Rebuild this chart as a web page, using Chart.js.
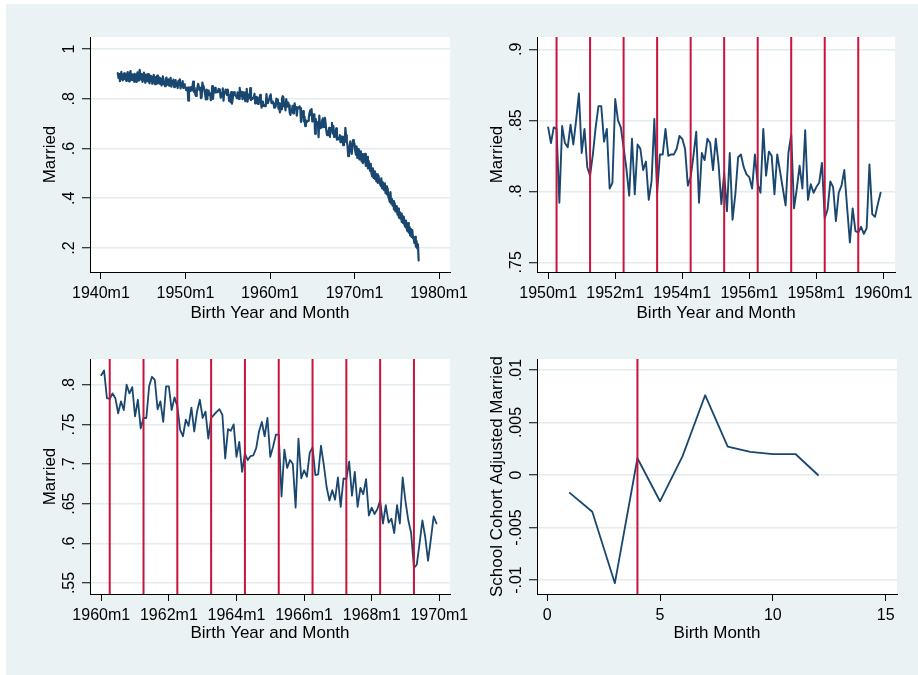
<!DOCTYPE html>
<html>
<head>
<meta charset="utf-8">
<script src="https://cdn.jsdelivr.net/npm/chart.js@4.4.1/dist/chart.umd.min.js"></script>
<style>
  body { margin: 0; background: #fff; }
  #bg { position: absolute; left: 6px; top: 4px; width: 912px; height: 671px; background: #eaf2f3; }
  canvas { position: absolute; }
</style>
</head>
<body>
<div id="bg"></div>
<canvas id="tl"></canvas>
<canvas id="tr"></canvas>
<canvas id="bl"></canvas>
<canvas id="br"></canvas>
<script>
// share married, by birth month (1942m1 .. 1977m8)
const married4249 = [
  .903, .884, .899, .871, .892, .908, .880, .874, .897, .902, .879, .893,
  .872, .899, .907, .882, .870, .901, .911, .878, .875, .898, .889, .869,
  .900, .881, .868, .896, .906, .884, .873, .916, .896, .877, .899, .868,
  .889, .905, .876, .864, .897, .884, .870, .899, .879, .862, .892, .871,
  .884, .860, .890, .896, .866, .858, .887, .873, .893, .861, .870, .885,
  .860, .882, .853, .871, .890, .858, .868, .850, .879, .885, .856, .866,
  .878, .852, .864, .884, .848, .871, .859, .877, .846, .868, .875, .851,
  .864, .843, .872, .855, .878, .841, .862, .850, .871, .843, .858, .845
];
const married5059 = [
  .845, .834, .845, .844, .792, .846, .834, .831, .847, .833, .850, .869,
  .827, .844, .817, .811, .826, .845, .860, .860, .835, .844, .802, .806,
  .865, .850, .845, .831, .816, .797, .837, .798, .833, .830, .815, .821,
  .794, .807, .851, .799, .826, .826, .844, .825, .826, .826, .830, .839,
  .837, .830, .804, .810, .825, .842, .792, .827, .822, .837, .834, .815,
  .837, .819, .791, .813, .786, .827, .780, .798, .824, .826, .817, .812,
  .810, .802, .826, .805, .799, .844, .811, .828, .825, .798, .826, .814,
  .802, .790, .827, .840, .788, .802, .818, .802, .843, .794, .805, .799,
  .803, .806, .820, .781, .787, .807, .803, .779, .799, .804, .815, .789,
  .764, .788, .772, .771, .775, .770, .774, .819, .784, .782, .791, .799
];
const married6069 = [
  .812, .818, .783, .782, .789, .783, .764, .779, .768, .800, .789, .797,
  .760, .781, .745, .758, .758, .798, .810, .806, .769, .779, .753, .798,
  .798, .768, .784, .773, .743, .735, .756, .748, .771, .741, .766, .781,
  .758, .766, .732, .758, .762, .766, .769, .762, .707, .744, .742, .750,
  .709, .728, .690, .713, .705, .710, .711, .720, .741, .753, .735, .758,
  .709, .722, .737, .737, .659, .718, .695, .705, .700, .645, .732, .682,
  .692, .684, .714, .721, .686, .687, .723, .699, .671, .654, .667, .655,
  .683, .646, .682, .681, .703, .660, .690, .646, .670, .662, .681, .635,
  .645, .637, .643, .654, .625, .648, .626, .631, .613, .648, .625, .683,
  .653, .629, .613, .569, .573, .600, .629, .608, .578, .605, .634, .625
];
const married7077 = [
  .618, .590, .575, .608, .562, .597, .570, .556, .588, .572, .548, .577,
  .541, .570, .548, .578, .530, .559, .566, .520, .550, .532, .510, .538,
  .500, .488, .520, .482, .508, .478, .499, .468, .496, .462, .490, .470,
  .470, .450, .480, .440, .465, .438, .432, .460, .420, .448, .415, .440,
  .405, .398, .385, .425, .378, .398, .370, .388, .355, .380, .347, .368,
  .350, .334, .358, .322, .345, .318, .338, .305, .330, .300, .325, .292,
  .285, .310, .278, .268, .300, .262, .285, .250, .276, .245, .272, .240,
  .238, .220, .245, .205, .228, .198, .215, .150
];
// school cohort adjusted married, by birth month 1..12
const birthMonths = [1, 2, 3, 4, 5, 6, 7, 8, 9, 10, 11, 12];
const adjMarried = [-.0017, -.0035, -.0103, .0016, -.0025, .0018, .0076, .0027, .0022, .0020, .0020, 0];

const schoolStartMonth = 4;
const redYears50s = [1950, 1951, 1952, 1953, 1954, 1955, 1956, 1957, 1958, 1959];
const redYears60s = [1960, 1961, 1962, 1963, 1964, 1965, 1966, 1967, 1968, 1969];

const xTicksTL = [-240, -120, 0, 120, 240];      // months since 1960m1
const xTicksTR = [-120, -96, -72, -48, -24, 0];
const xTicksBL = [0, 24, 48, 72, 96, 120];
const xTicksBR = [0, 5, 10, 15];
const yTicksTL = [.2, .4, .6, .8, 1];
const yTicksTR = [.75, .8, .85, .9];
const yTicksBL = [.55, .6, .65, .7, .75, .8];
const yTicksBR = [-.01, -.005, 0, .005, .01];

const NAVY = '#1a476f';
const RED = '#c8143c';
const GRID = '#e3ecef';
const FONT = '"Liberation Sans", Arial, sans-serif';

Chart.defaults.font.family = FONT;
Chart.defaults.color = '#000';

// month index relative to 1960m1
const tm = (year, month) => (year - 1960) * 12 + (month - 1);
const series = (startYear, vals) => vals.map((v, i) => ({ x: tm(startYear, 1) + i, y: v }));
const fmtTm = v => (1960 + Math.floor(v / 12)) + 'm' + (((v % 12) + 12) % 12 + 1);
const fmtY = v => Number(v.toFixed(4)).toString().replace(/^(-?)0\./, '$1.');

const mctx = document.createElement('canvas').getContext('2d');
mctx.font = '16px ' + FONT;
const yPad = ticks => 12 - Math.max(...ticks.map(v => mctx.measureText(fmtY(v)).width)) / 2;

const whiteArea = {
  id: 'whiteArea',
  beforeDraw(chart) {
    const a = chart.chartArea;
    chart.ctx.save();
    chart.ctx.fillStyle = '#fff';
    chart.ctx.fillRect(a.left, a.top, a.right - a.left, a.bottom - a.top);
    chart.ctx.restore();
  }
};

function vlines(xs, y0, y1) {
  return xs.map(x => ({
    data: [{ x: x, y: y0 }, { x: x, y: y1 }],
    borderColor: RED, borderWidth: 2, order: 0
  }));
}

function panel(id, box, area, c) {
  const cv = document.getElementById(id);
  cv.style.left = box[0] + 'px';
  cv.style.top = box[1] + 'px';
  cv.width = box[2];
  cv.height = box[3];
  const yW = area[0] - box[0];
  const xH = box[1] + box[3] - area[3];
  new Chart(cv, {
    type: 'line',
    data: { datasets: c.datasets },
    options: {
      responsive: false,
      animation: false,
      devicePixelRatio: 1,
      layout: { padding: { left: 0, top: area[1] - box[1], right: box[0] + box[2] - area[2], bottom: 0 } },
      plugins: { legend: { display: false }, tooltip: { enabled: false } },
      elements: {
        point: { radius: 0 },
        line: { tension: 0, borderJoinStyle: 'round', borderCapStyle: 'round' }
      },
      scales: {
        x: {
          type: 'linear', min: c.xMin, max: c.xMax,
          afterBuildTicks: s => { s.ticks = c.xTicks.map(v => ({ value: v })); },
          afterFit: s => { s.height = xH; },
          ticks: { callback: c.xFmt, font: { size: 16 }, color: '#000', padding: 5, maxRotation: 0, autoSkip: false },
          grid: { drawOnChartArea: false, tickLength: 7, tickColor: '#000', tickWidth: 1 },
          border: { color: '#000', width: 1 },
          title: { display: true, text: c.xTitle, font: { size: 17 }, color: '#000', padding: { top: 0, bottom: 6 } }
        },
        y: {
          type: 'linear', min: c.yMin, max: c.yMax,
          afterBuildTicks: s => { s.ticks = c.yTicks.map(v => ({ value: v })); },
          afterFit: s => { s.width = yW; },
          ticks: {
            callback: fmtY, font: { size: 16 }, color: '#000',
            minRotation: 90, maxRotation: 90, crossAlign: 'center',
            padding: yPad(c.yTicks), autoSkip: false
          },
          grid: { color: GRID, lineWidth: 1.5, tickLength: 8, tickColor: '#000', tickWidth: 1 },
          border: { color: '#000', width: 1 },
          title: { display: true, text: c.yTitle, font: { size: 17 }, color: '#000', padding: { top: 10, bottom: 0 } }
        }
      }
    },
    plugins: [whiteArea]
  });
}

const allMarried = [].concat(
  series(1942, married4249), series(1950, married5059),
  series(1960, married6069), series(1970, married7077)
);

panel('tl', [30, 20, 445, 310], [90, 37, 450, 272], {
  datasets: [{ data: allMarried, borderColor: NAVY, borderWidth: 2.2, order: 1 }],
  xMin: -255.5, xMax: 255.5, yMin: 0.1035, yMax: 1.048,
  xTicks: xTicksTL, yTicks: yTicksTL, xFmt: fmtTm,
  xTitle: 'Birth Year and Month', yTitle: 'Married'
});

const yMinTR = 0.7432, yMaxTR = 0.9087;
panel('tr', [477, 20, 441, 310], [537, 37, 897, 272], {
  datasets: [{ data: series(1950, married5059), borderColor: NAVY, borderWidth: 1.9, order: 1 }]
    .concat(vlines(redYears50s.map(y => tm(y, schoolStartMonth)), yMinTR, yMaxTR)),
  xMin: -124, xMax: 4.2, yMin: yMinTR, yMax: yMaxTR,
  xTicks: xTicksTR, yTicks: yTicksTR, xFmt: fmtTm,
  xTitle: 'Birth Year and Month', yTitle: 'Married'
});

const yMinBL = 0.5361, yMaxBL = 0.8324;
panel('bl', [30, 340, 445, 310], [90, 359, 450, 594], {
  datasets: [{ data: series(1960, married6069), borderColor: NAVY, borderWidth: 1.8, order: 1 }]
    .concat(vlines(redYears60s.map(y => tm(y, schoolStartMonth)), yMinBL, yMaxBL)),
  xMin: -4, xMax: 123.8, yMin: yMinBL, yMax: yMaxBL,
  xTicks: xTicksBL, yTicks: yTicksBL, xFmt: fmtTm,
  xTitle: 'Birth Year and Month', yTitle: 'Married'
});

const yMinBR = -0.01133, yMaxBR = 0.01105;
panel('br', [477, 340, 441, 310], [537, 359, 897, 594], {
  datasets: [{ data: birthMonths.map((m, i) => ({ x: m, y: adjMarried[i] })), borderColor: NAVY, borderWidth: 1.8, order: 1 }]
    .concat(vlines([schoolStartMonth], yMinBR, yMaxBR)),
  xMin: -0.45, xMax: 15.5, yMin: yMinBR, yMax: yMaxBR,
  xTicks: xTicksBR, yTicks: yTicksBR, xFmt: v => String(v),
  xTitle: 'Birth Month', yTitle: 'School Cohort Adjusted Married'
});
</script>
</body>
</html>
